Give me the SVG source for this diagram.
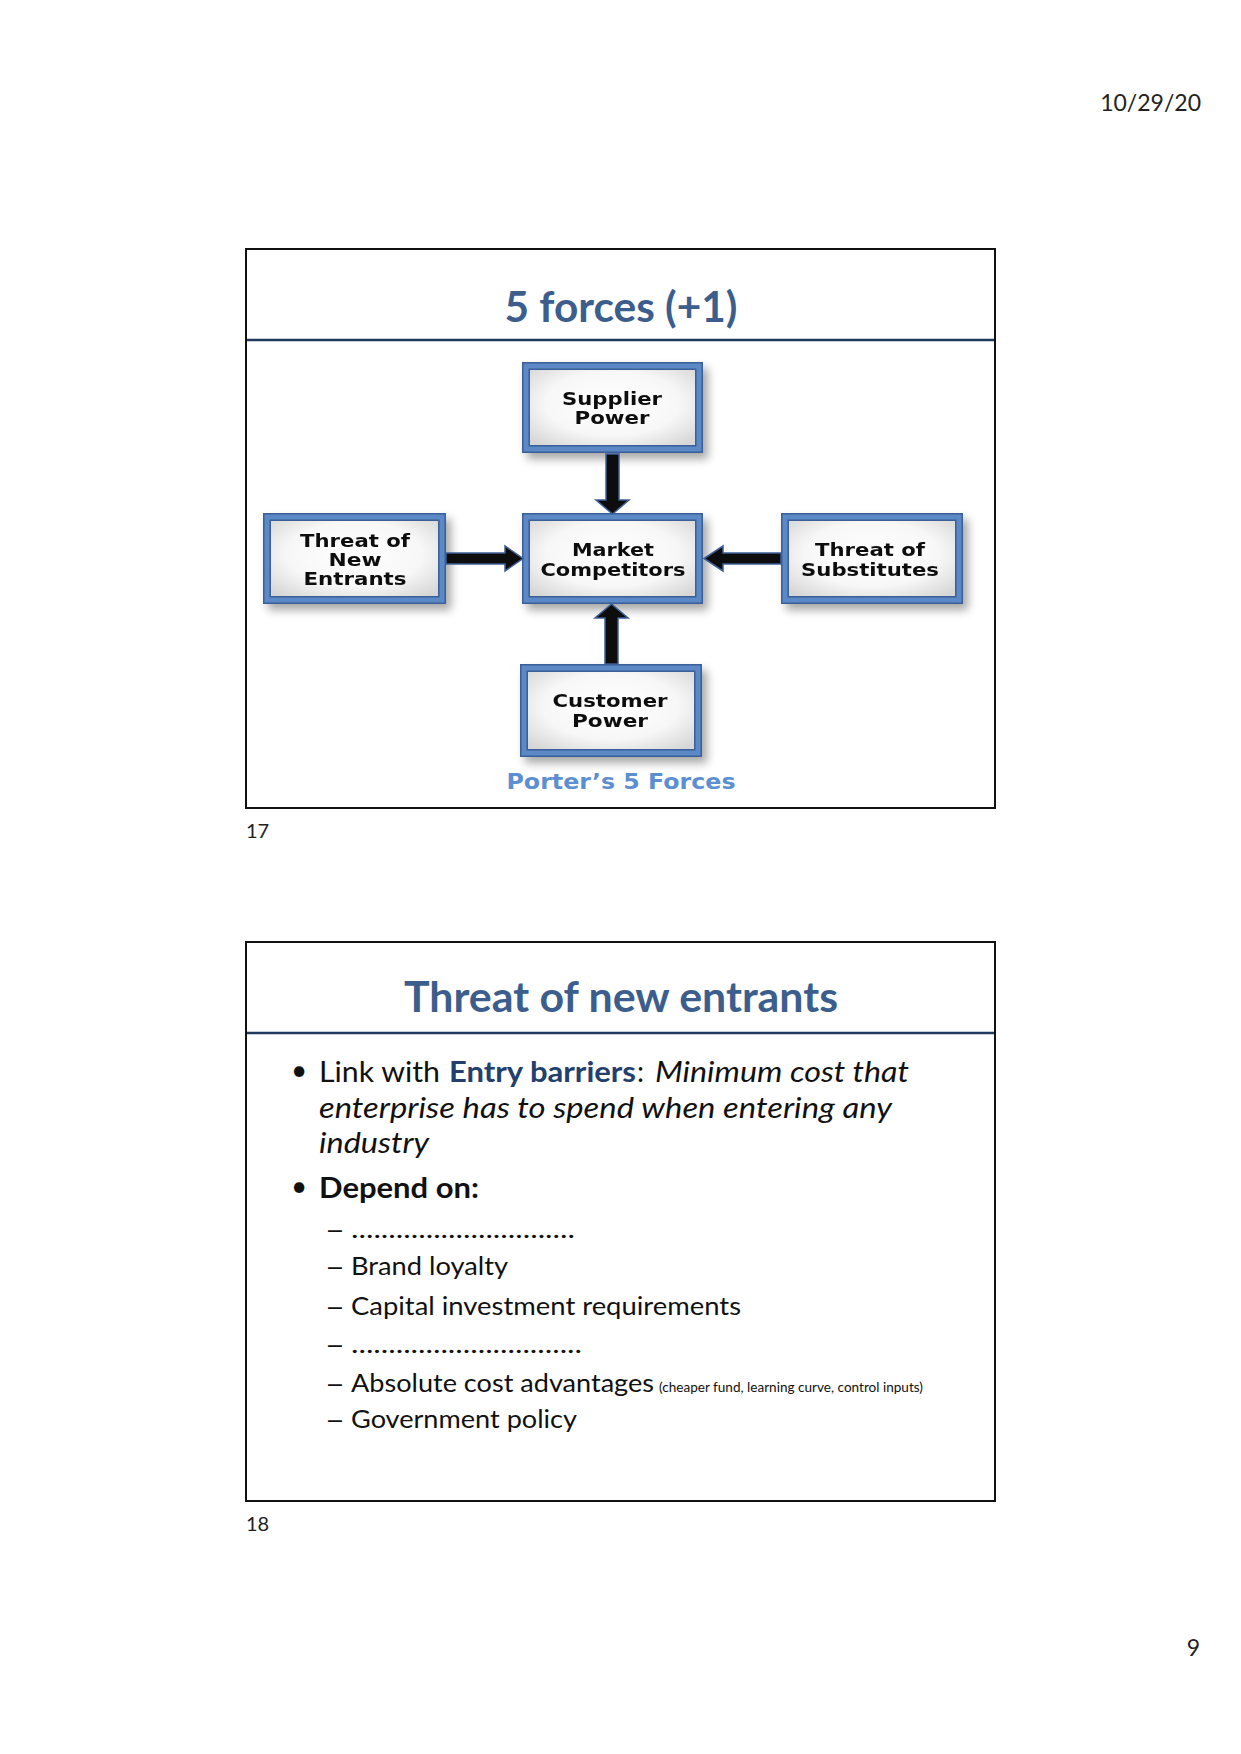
<svg xmlns="http://www.w3.org/2000/svg" width="1241" height="1754" viewBox="0 0 1241 1754">
<defs>
<style>
.frame{fill:none;stroke:#111;stroke-width:2}
.tline{stroke:#1f3a5c;stroke-width:2.5}
.title{font-family:Lato,"Liberation Sans",sans-serif;font-weight:bold;fill:#3b5e8c;text-anchor:middle}
.pg{font-family:Lato,"Liberation Sans",sans-serif;fill:#222}
.bx{font-family:"DejaVu Sans",Verdana,sans-serif;font-weight:bold;font-size:17px;fill:#111;text-anchor:middle}
.body{font-family:Lato,"Liberation Sans",sans-serif;fill:#111}
.dash{font-family:"Liberation Sans",Arial,sans-serif;fill:#111;font-size:25px}
.navy{fill:#22406b}
.outer{fill:url(#boxfill);stroke:#3b5f98;stroke-width:8}
.inner{fill:none;stroke:#5b88c6;stroke-width:5}
.arr{fill:#0d0d0d;stroke:#3d5f95;stroke-width:1.5;stroke-linejoin:miter}
</style>
<radialGradient id="boxfill" cx="50%" cy="45%" r="65%">
<stop offset="0" stop-color="#ffffff"/>
<stop offset="0.6" stop-color="#f7f7f7"/>
<stop offset="1" stop-color="#d6d6d6"/>
</radialGradient>
<filter id="sh" x="-20%" y="-20%" width="150%" height="160%">
<feGaussianBlur in="SourceAlpha" stdDeviation="5"/>
<feOffset dx="5" dy="6" result="b"/>
<feComponentTransfer><feFuncA type="linear" slope="0.35"/></feComponentTransfer>
<feMerge><feMergeNode/><feMergeNode in="SourceGraphic"/></feMerge>
</filter>
</defs>
<rect width="1241" height="1754" fill="#ffffff"/>

<text class="pg" x="1201" y="111" font-size="23" text-anchor="end">10/29/20</text>

<!-- Slide 17 -->
<g id="slide17">
<rect class="frame" x="246" y="249" width="749" height="559"/>
<line class="tline" x1="247" y1="340" x2="994" y2="340"/>
<text class="title" x="621" y="322" font-size="42" textLength="233" lengthAdjust="spacingAndGlyphs">5 forces (+1)</text>
</g>

<g id="supplier" filter="url(#sh)">
<rect class="outer" x="526" y="366" width="173" height="83"/>
<rect class="inner" x="526" y="366" width="173" height="83"/>
<text class="bx" x="612" y="405" textLength="100" lengthAdjust="spacingAndGlyphs">Supplier</text>
<text class="bx" x="612" y="424" textLength="75" lengthAdjust="spacingAndGlyphs">Power</text>
</g>
<g id="market" filter="url(#sh)">
<rect class="outer" x="526" y="517" width="173" height="83"/>
<rect class="inner" x="526" y="517" width="173" height="83"/>
<text class="bx" x="613" y="556" textLength="82" lengthAdjust="spacingAndGlyphs">Market</text>
<text class="bx" x="613" y="576" textLength="145" lengthAdjust="spacingAndGlyphs">Competitors</text>
</g>
<g id="newentrants" filter="url(#sh)">
<rect class="outer" x="267" y="517" width="175" height="83"/>
<rect class="inner" x="267" y="517" width="175" height="83"/>
<text class="bx" x="355" y="547" textLength="110" lengthAdjust="spacingAndGlyphs">Threat of</text>
<text class="bx" x="355" y="566" textLength="53" lengthAdjust="spacingAndGlyphs">New</text>
<text class="bx" x="355" y="585" textLength="103" lengthAdjust="spacingAndGlyphs">Entrants</text>
</g>
<g id="substitutes" filter="url(#sh)">
<rect class="outer" x="785" y="517" width="174" height="83"/>
<rect class="inner" x="785" y="517" width="174" height="83"/>
<text class="bx" x="870" y="556" textLength="110" lengthAdjust="spacingAndGlyphs">Threat of</text>
<text class="bx" x="870" y="576" textLength="138" lengthAdjust="spacingAndGlyphs">Substitutes</text>
</g>
<g id="customer" filter="url(#sh)">
<rect class="outer" x="524" y="668" width="174" height="85"/>
<rect class="inner" x="524" y="668" width="174" height="85"/>
<text class="bx" x="610" y="707" textLength="115" lengthAdjust="spacingAndGlyphs">Customer</text>
<text class="bx" x="610" y="727" textLength="76" lengthAdjust="spacingAndGlyphs">Power</text>
</g>

<g id="connectors">
<polygon class="arr" points="606,454 619,454 619,500 629,500 612.5,514 596,500 606,500"/>
<polygon class="arr" points="605,664 618,664 618,618 628,618 611.5,604 595,618 605,618"/>
<polygon class="arr" points="446,553 505,553 505,546 523,558.5 505,571 505,564 446,564"/>
<polygon class="arr" points="781,553 723,553 723,546 704,558.5 723,571 723,564 781,564"/>
</g>

<text x="621" y="789" font-family="'DejaVu Sans',Verdana,sans-serif" font-weight="bold" font-size="21" fill="#5b8fd2" text-anchor="middle" textLength="229" lengthAdjust="spacingAndGlyphs">Porter’s 5 Forces</text>

<text class="pg" x="246" y="838" font-size="20">17</text>

<!-- Slide 18 -->
<g id="slide18">
<rect class="frame" x="246" y="942" width="749" height="559"/>
<line class="tline" x1="247" y1="1033" x2="994" y2="1033"/>
<text class="title" x="621" y="1012" font-size="42" textLength="434" lengthAdjust="spacingAndGlyphs">Threat of new entrants</text>

<text class="body" x="291" y="1080" font-size="28">•</text>
<text class="body" x="319" y="1082" font-size="28" textLength="121" lengthAdjust="spacingAndGlyphs">Link with</text>
<text class="navy" x="449" y="1082" font-family="Lato,'Liberation Sans',sans-serif" font-size="28" font-weight="bold" textLength="187" lengthAdjust="spacingAndGlyphs">Entry barriers</text>
<text class="body" x="637" y="1082" font-size="28">:</text>
<text class="body" x="655" y="1082" font-size="28" font-style="italic" textLength="254" lengthAdjust="spacingAndGlyphs">Minimum cost that</text>
<text class="body" x="319" y="1118" font-size="28" font-style="italic" textLength="573" lengthAdjust="spacingAndGlyphs">enterprise has to spend when entering any</text>
<text class="body" x="319" y="1153" font-size="28" font-style="italic" textLength="110" lengthAdjust="spacingAndGlyphs">industry</text>

<text class="body" x="291" y="1196" font-size="28">•</text>
<text class="body" x="319" y="1198" font-size="28" font-weight="bold" textLength="160" lengthAdjust="spacingAndGlyphs">Depend on:</text>

<g font-size="25">
<text class="dash" x="328" y="1238">–</text>
<text class="body" x="351" y="1238" textLength="224" lengthAdjust="spacingAndGlyphs">..............................</text>
<text class="dash" x="328" y="1275">–</text>
<text class="body" x="351" y="1275" textLength="157" lengthAdjust="spacingAndGlyphs">Brand loyalty</text>
<text class="dash" x="328" y="1315">–</text>
<text class="body" x="351" y="1315" textLength="390" lengthAdjust="spacingAndGlyphs">Capital investment requirements</text>
<text class="dash" x="328" y="1353">–</text>
<text class="body" x="351" y="1353" textLength="231" lengthAdjust="spacingAndGlyphs">...............................</text>
<text class="dash" x="328" y="1392">–</text>
<text class="body" x="351" y="1392" textLength="303" lengthAdjust="spacingAndGlyphs">Absolute cost advantages</text>
<text class="body" x="659" y="1392" font-size="13" textLength="264" lengthAdjust="spacingAndGlyphs">(cheaper fund, learning curve, control inputs)</text>
<text class="dash" x="328" y="1428">–</text>
<text class="body" x="351" y="1428" textLength="226" lengthAdjust="spacingAndGlyphs">Government policy</text>
</g>
</g>

<text class="pg" x="246" y="1531" font-size="20">18</text>
<text class="pg" x="1200" y="1656" font-size="23" text-anchor="end">9</text>
</svg>
